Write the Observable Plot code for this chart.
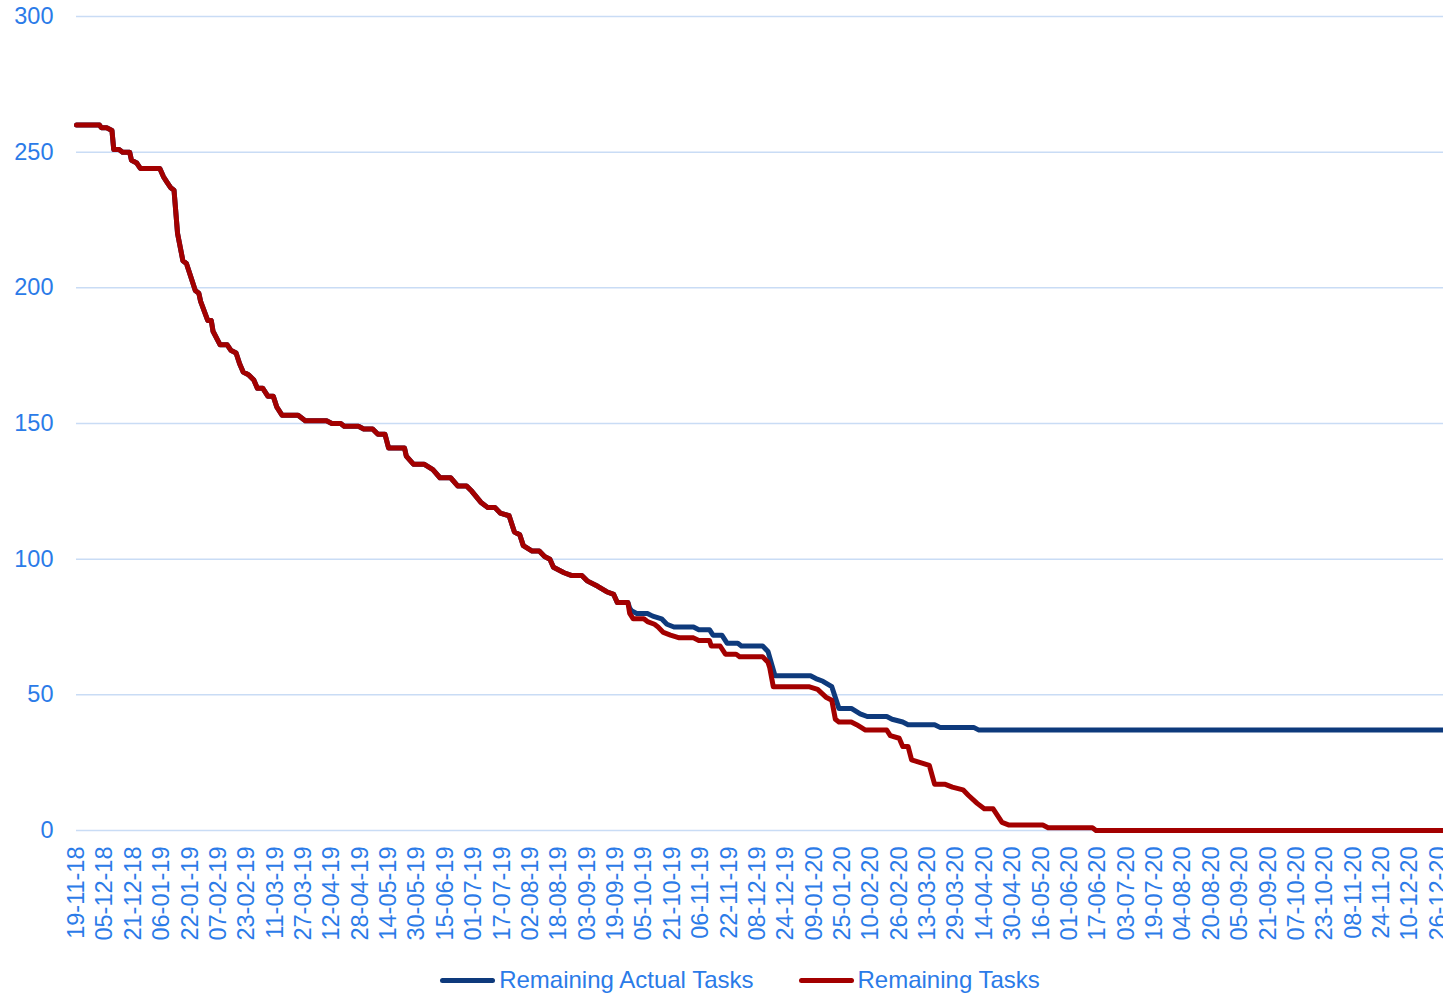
<!DOCTYPE html>
<html>
<head>
<meta charset="utf-8">
<script src="https://cdn.jsdelivr.net/npm/d3@7"></script>
<script src="https://cdn.jsdelivr.net/npm/@observablehq/plot@0.6"></script>
<style>
  html, body { margin: 0; padding: 0; background: #fff; }
  body { width: 1443px; height: 994px; overflow: hidden; font-family: "Liberation Sans", Arial, sans-serif; }
  #legend { height: 60px; display: flex; align-items: center; justify-content: center; padding-left: 37px; box-sizing: border-box; width: 1443px; font-size: 24px; color: #2b7be8; }
  .item { display: flex; align-items: center; }
  .item + .item { margin-left: 45px; }
  .swatch { width: 55px; height: 5px; border-radius: 2.5px; margin-right: 4px; }
</style>
</head>
<body>
<div id="chart"></div>
<div id="legend"></div>
<script>
// Remaining Tasks (planned burndown)
const plannedDates = [
  "2018-11-19","2018-12-02","2018-12-03","2018-12-06","2018-12-09","2018-12-10","2018-12-13","2018-12-15","2018-12-19","2018-12-20",
  "2018-12-23","2018-12-25","2019-01-05","2019-01-07","2019-01-09","2019-01-11","2019-01-13","2019-01-15","2019-01-18","2019-01-20",
  "2019-01-22","2019-01-25","2019-01-27","2019-01-28","2019-02-01","2019-02-03","2019-02-04","2019-02-08","2019-02-12","2019-02-14",
  "2019-02-17","2019-02-19","2019-02-21","2019-02-24","2019-02-27","2019-03-01","2019-03-04","2019-03-07","2019-03-10","2019-03-12",
  "2019-03-15","2019-03-24","2019-03-28","2019-04-09","2019-04-12","2019-04-17","2019-04-19","2019-04-27","2019-04-30","2019-05-05",
  "2019-05-08","2019-05-12","2019-05-14","2019-05-23","2019-05-24","2019-05-28","2019-06-03","2019-06-08","2019-06-12","2019-06-18",
  "2019-06-22","2019-06-27","2019-06-30","2019-07-05","2019-07-09","2019-07-13","2019-07-16","2019-07-21","2019-07-24","2019-07-27",
  "2019-07-29","2019-08-03","2019-08-07","2019-08-10","2019-08-13","2019-08-15","2019-08-21","2019-08-25","2019-08-31","2019-09-03",
  "2019-09-09","2019-09-14","2019-09-18","2019-09-20","2019-09-26","2019-09-27","2019-09-29","2019-10-05","2019-10-07","2019-10-11",
  "2019-10-13","2019-10-16","2019-10-20","2019-10-25","2019-11-02","2019-11-05","2019-11-11","2019-11-12","2019-11-17","2019-11-20",
  "2019-11-26","2019-11-28","2019-12-11","2019-12-14","2019-12-15","2019-12-17","2020-01-06","2020-01-11","2020-01-16","2020-01-19",
  "2020-01-21","2020-01-23","2020-01-30","2020-02-02","2020-02-07","2020-02-19","2020-02-21","2020-02-26","2020-02-28","2020-03-02",
  "2020-03-04","2020-03-09","2020-03-14","2020-03-17","2020-03-23","2020-03-27","2020-04-02","2020-04-05","2020-04-10","2020-04-14",
  "2020-04-19","2020-04-24","2020-04-28","2020-05-17","2020-05-20","2020-06-14","2020-06-16","2020-12-29"
];
const plannedValues = [
  260,260,259,259,258,251,251,250,250,247,
  246,244,244,241,239,237,236,220,210,209,
  205,199,198,195,188,188,184,179,179,177,
  176,172,169,168,166,163,163,160,160,156,
  153,153,151,151,150,150,149,149,148,148,
  146,146,141,141,138,135,135,133,130,130,
  127,127,125,121,119,119,117,116,110,109,
  105,103,103,101,100,97,95,94,94,92,
  90,88,87,84,84,80,78,78,77,76,
  75,73,72,71,71,70,70,68,68,65,
  65,64,64,62,60,53,53,52,49,48,
  41,40,40,39,37,37,35,34,31,31,
  26,25,24,17,17,16,15,13,10,8,
  8,3,2,2,1,1,0,0
];

// Remaining Actual Tasks: identical to planned until it splits off
const actualSplitDate = "2019-09-27";
const actualTailDates = [
  "2019-09-27","2019-09-28","2019-10-01","2019-10-07","2019-10-10","2019-10-15","2019-10-18","2019-10-22","2019-11-02","2019-11-05",
  "2019-11-11","2019-11-13","2019-11-18","2019-11-21","2019-11-27","2019-11-29","2019-12-11","2019-12-14","2019-12-18","2020-01-07",
  "2020-01-10","2020-01-14","2020-01-19","2020-01-23","2020-01-30","2020-02-04","2020-02-08","2020-02-19","2020-02-22","2020-02-28",
  "2020-03-02","2020-03-17","2020-03-20","2020-04-08","2020-04-11","2020-12-29"
];
const actualTailValues = [
  82,81,80,80,79,78,76,75,75,74,
  74,72,72,69,69,68,68,66,57,57,
  56,55,53,45,45,43,42,42,41,40,
  39,39,38,38,37,37
];

const tickLabels = [
  "19-11-18","05-12-18","21-12-18","06-01-19","22-01-19","07-02-19","23-02-19","11-03-19","27-03-19","12-04-19",
  "28-04-19","14-05-19","30-05-19","15-06-19","01-07-19","17-07-19","02-08-19","18-08-19","03-09-19","19-09-19",
  "05-10-19","21-10-19","06-11-19","22-11-19","08-12-19","24-12-19","09-01-20","25-01-20","10-02-20","26-02-20",
  "13-03-20","29-03-20","14-04-20","30-04-20","16-05-20","01-06-20","17-06-20","03-07-20","19-07-20","04-08-20",
  "20-08-20","05-09-20","21-09-20","07-10-20","23-10-20","08-11-20","24-11-20","10-12-20","26-12-20"
];
const yTicks = [0, 50, 100, 150, 200, 250, 300];
const xDomain = ["2018-11-19", "2020-12-29"];

const seriesNames = ["Remaining Actual Tasks", "Remaining Tasks"];
const seriesColors = ["#0e3a7c", "#a30000"];

const parse = d3.utcParse("%Y-%m-%d");
const parseTick = d3.utcParse("%d-%m-%y");
const fmt = d3.utcFormat("%d-%m-%y");

const planned = plannedDates.map((d, i) => ({date: parse(d), value: plannedValues[i]}));
const split = parse(actualSplitDate);
const actual = planned.filter(p => p.date < split)
  .concat(actualTailDates.map((d, i) => ({date: parse(d), value: actualTailValues[i]})));

const textColor = "#2b7be8";
const gridColor = "#c9dcf5";

const chart = Plot.plot({
  width: 1443,
  height: 950,
  marginLeft: 76,
  marginRight: 0,
  marginTop: 16,
  marginBottom: 120,
  style: {fontFamily: "'Liberation Sans', Arial, sans-serif", fontSize: "23.5px", color: textColor, background: "#fff", overflow: "visible"},
  x: {type: "utc", domain: xDomain.map(parse)},
  y: {domain: [0, 300]},
  marks: [
    Plot.gridY(yTicks, {stroke: gridColor, strokeOpacity: 1, strokeWidth: 1.5}),
    Plot.axisY({ticks: yTicks, tickSize: 0, tickPadding: 23, label: null, fontSize: 23.5}),
    Plot.axisX({ticks: tickLabels.map(parseTick), tickFormat: fmt, tickRotate: -90, tickSize: 0, tickPadding: 16, label: null, fontSize: 23.5}),
    Plot.line(actual, {x: "date", y: "value", stroke: seriesColors[0], strokeWidth: 5, strokeLinejoin: "round", strokeLinecap: "round"}),
    Plot.line(planned, {x: "date", y: "value", stroke: seriesColors[1], strokeWidth: 5, strokeLinejoin: "round", strokeLinecap: "round"})
  ]
});
document.getElementById("chart").appendChild(chart);

const legend = document.getElementById("legend");
seriesNames.forEach((name, i) => {
  const item = document.createElement("div");
  item.className = "item";
  const sw = document.createElement("span");
  sw.className = "swatch";
  sw.style.background = seriesColors[i];
  const label = document.createElement("span");
  label.textContent = name;
  item.appendChild(sw);
  item.appendChild(label);
  legend.appendChild(item);
});
</script>
</body>
</html>
